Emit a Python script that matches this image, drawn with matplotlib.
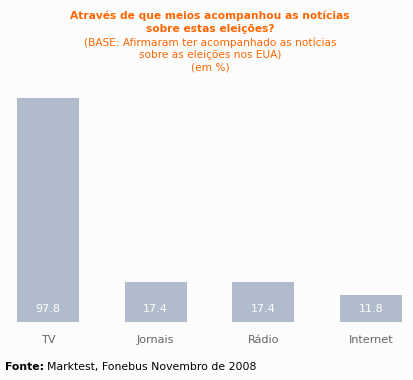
import numpy as np
import matplotlib.pyplot as plt

# dados
categorias = ['TV', 'Jornais', 'Rádio', 'Internet']
valores = [97.8, 17.4, 17.4, 11.8]

W, H = 413, 380
fig = plt.figure(figsize=(W / 100, H / 100), dpi=100)
fig.patch.set_facecolor('#fcfcfc')

# eixo posicionado em pixels
px_unit = 107.7
x0 = 48 - 0.5 * px_unit
ax = fig.add_axes([x0 / W, 58 / H, 4 * px_unit / W, 229 / H])
ax.set_facecolor('#fcfcfc')
x = np.arange(len(categorias))
ax.bar(x, valores, width=0.575, color='#b0bccc')
ax.set_xlim(-0.5, 3.5)
ax.set_ylim(0, 100)
ax.axis('off')

for xi, v, c in zip(x, valores, categorias):
    ax.text(xi, 5.5, f'{v:.1f}', ha='center', va='center', color='white', fontsize=8)
    ax.text(xi, -8, c, ha='center', va='center', color='#666666', fontsize=8.1)

# título
cor = '#ff6600'
fig.text(210 / W, 1 - 16 / H, 'Através de que meios acompanhou as notícias',
         ha='center', va='center', color=cor, fontsize=7.7, fontweight='bold')
fig.text(210 / W, 1 - 29 / H, 'sobre estas eleições?',
         ha='center', va='center', color=cor, fontsize=7.7, fontweight='bold')
fig.text(210 / W, 1 - 43 / H, '(BASE: Afirmaram ter acompanhado as notícias',
         ha='center', va='center', color=cor, fontsize=7.6)
fig.text(210 / W, 1 - 55 / H, 'sobre as eleições nos EUA)',
         ha='center', va='center', color=cor, fontsize=7.6)
fig.text(210 / W, 1 - 68 / H, '(em %)',
         ha='center', va='center', color=cor, fontsize=7.6)

# fonte
t = fig.text(5 / W, 1 - 367 / H, 'Fonte:', ha='left', va='center',
             color='black', fontsize=7.8, fontweight='bold')
fig.canvas.draw()
bb = t.get_window_extent()
fig.text((bb.x1 + 3) / W, 1 - 367 / H, 'Marktest, Fonebus Novembro de 2008',
         ha='left', va='center', color='black', fontsize=7.8)

fig.savefig('out.png', dpi=100, facecolor=fig.get_facecolor())
